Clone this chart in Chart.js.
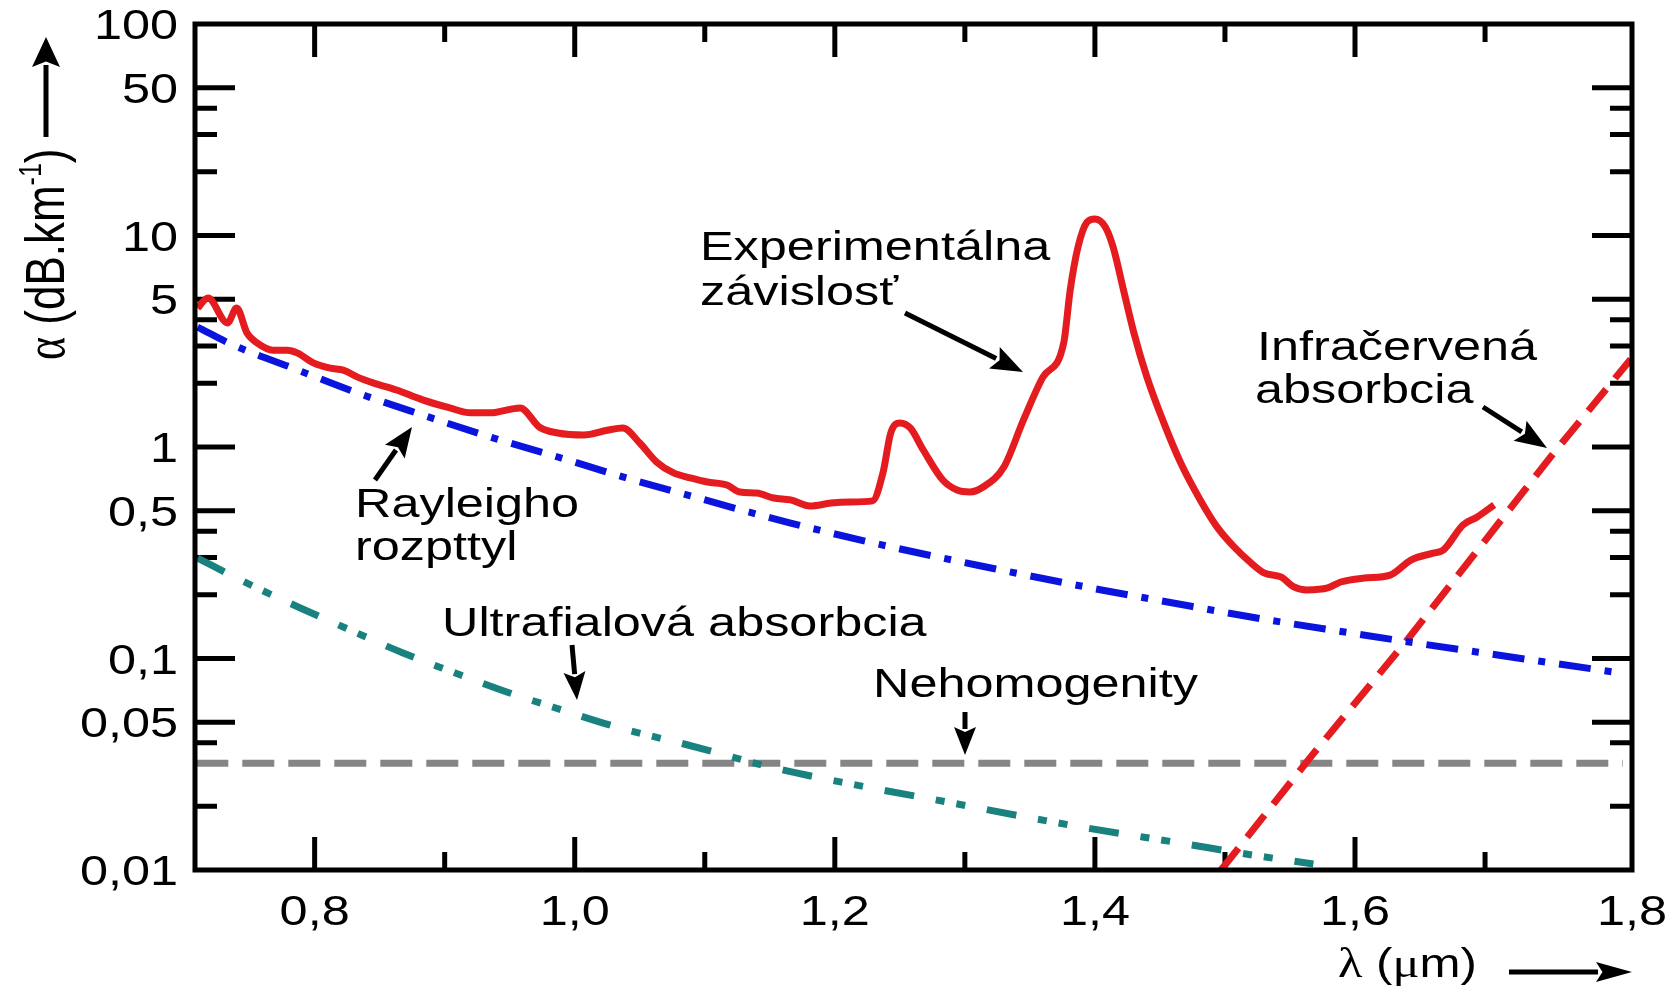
<!DOCTYPE html>
<html>
<head>
<meta charset="utf-8">
<script src="https://cdn.jsdelivr.net/npm/chart.js@4/dist/chart.umd.min.js"></script>
<style>
  html, body { margin: 0; padding: 0; background: #fff; }
  #wrap { width: 1677px; height: 990px; }
</style>
</head>
<body>
<div id="wrap"><canvas id="lossChart" width="1677" height="990"></canvas></div>
<script>
// values: wavelength in um, attenuation in dB/km
const expLambda = [0.710, 0.718, 0.733, 0.740, 0.748, 0.756, 0.768, 0.779, 0.787, 0.799, 0.812, 0.822, 0.833, 0.845, 0.863, 0.883, 0.904, 0.920, 0.935, 0.958, 0.973, 0.987, 1.007, 1.025, 1.037, 1.050, 1.063, 1.076, 1.089, 1.102, 1.117, 1.127, 1.140, 1.153, 1.166, 1.181, 1.197, 1.212, 1.229, 1.237, 1.243, 1.250, 1.258, 1.268, 1.283, 1.294, 1.304, 1.314, 1.330, 1.345, 1.360, 1.376, 1.381, 1.387, 1.394, 1.400, 1.408, 1.414, 1.422, 1.430, 1.440, 1.453, 1.466, 1.481, 1.494, 1.507, 1.520, 1.530, 1.543, 1.553, 1.563, 1.579, 1.589, 1.607, 1.627, 1.643, 1.660, 1.668, 1.683, 1.694, 1.707];
const expAlpha = [4.54, 5.06, 3.86, 4.54, 3.46, 3.10, 2.87, 2.87, 2.78, 2.50, 2.36, 2.31, 2.14, 2.01, 1.86, 1.67, 1.53, 1.45, 1.45, 1.53, 1.24, 1.165, 1.14, 1.20, 1.23, 1.044, 0.849, 0.754, 0.714, 0.683, 0.661, 0.613, 0.606, 0.574, 0.562, 0.526, 0.543, 0.549, 0.556, 0.754, 1.165, 1.30, 1.23, 0.968, 0.698, 0.626, 0.613, 0.647, 0.804, 1.34, 2.14, 3.10, 5.52, 8.82, 11.58, 11.97, 10.97, 8.82, 5.52, 3.46, 2.14, 1.30, 0.840, 0.562, 0.418, 0.337, 0.283, 0.254, 0.243, 0.218, 0.211, 0.2155, 0.230, 0.240, 0.248, 0.292, 0.315, 0.326, 0.428, 0.467, 0.532];

const rayLambda = [0.710, 0.737, 0.781, 0.833, 0.883, 0.935, 0.987, 1.037, 1.089, 1.166, 1.243, 1.320, 1.397, 1.473, 1.520, 1.597, 1.648, 1.725, 1.804];
const rayAlpha = [3.69, 3.04, 2.39, 1.80, 1.417, 1.115, 0.897, 0.722, 0.587, 0.437, 0.337, 0.268, 0.2155, 0.177, 0.157, 0.132, 0.118, 0.1006, 0.0854];

const uvLambda = [0.710, 0.743, 0.789, 0.822, 0.868, 0.902, 0.950, 0.983, 1.035, 1.087, 1.153, 1.204, 1.291, 1.381, 1.466, 1.521, 1.568];
const uvAlpha = [0.2986, 0.235, 0.1733, 0.141, 0.1062, 0.0882, 0.0687, 0.059, 0.0469, 0.039, 0.0304, 0.0261, 0.0207, 0.0163, 0.0134, 0.01177, 0.01067];

const irLambda = [1.497, 1.568, 1.640, 1.714, 1.753, 1.812];
const irAlpha = [0.0100, 0.0355, 0.122, 0.465, 0.94, 2.6];

const inhomLambda = [0.709, 1.806];
const inhomAlpha = [0.032, 0.032];

// axis ticks
const xTickValues = [0.8, 1.0, 1.2, 1.4, 1.6, 1.8];
const xTickLabels = ['0,8', '1,0', '1,2', '1,4', '1,6', '1,8'];
const xMajorMarks = [0.8, 1.0, 1.2, 1.4, 1.6];
const xMinorMarks = [0.9, 1.1, 1.3, 1.5, 1.7];
const yTickValues = [100, 50, 10, 5, 1, 0.5, 0.1, 0.05, 0.01];
const yTickLabels = ['100', '50', '10', '5', '1', '0,5', '0,1', '0,05', '0,01'];
const yMajorMarks = [50, 10, 5, 1, 0.5, 0.1, 0.05];
const yMinorMarks = [40, 30, 20, 4, 3, 2, 0.4, 0.3, 0.2, 0.04, 0.02];

const X_MIN = 0.708, X_MAX = 1.813;
const SX = 1.2;       // the original figure is stretched sideways
const SX_NOTE = 1.26; // callout text is a bit wider still
const SANS = '"Liberation Sans", Arial, sans-serif';
const SERIF = '"Liberation Serif", "Times New Roman", serif';

function pts(xs, ys) {
  return xs.map((x, i) => ({ x: x, y: ys[i] }));
}

// text drawn with the same sideways stretch as the source picture
function sText(ctx, str, x, y, size, align, family, sx) {
  sx = sx || SX;
  ctx.save();
  ctx.font = size + 'px ' + (family || SANS);
  const w = ctx.measureText(str).width * sx;
  const x0 = align === 'right' ? x - w : align === 'center' ? x - w / 2 : x;
  ctx.translate(x0, y);
  ctx.scale(sx, 1);
  ctx.textAlign = 'left';
  ctx.textBaseline = 'alphabetic';
  ctx.fillStyle = '#000';
  ctx.fillText(str, 0, 0);
  ctx.restore();
  return w;
}

function note(ctx, str, x, y) {
  return sText(ctx, str, x, y, 40, 'left', SANS, SX_NOTE);
}

function arrow(ctx, x1, y1, x2, y2, headLen, headHalf, width) {
  const ang = Math.atan2(y2 - y1, x2 - x1);
  const bx = x2 - headLen * Math.cos(ang), by = y2 - headLen * Math.sin(ang);
  ctx.save();
  ctx.strokeStyle = '#000';
  ctx.fillStyle = '#000';
  ctx.lineWidth = width;
  ctx.beginPath();
  ctx.moveTo(x1, y1);
  ctx.lineTo(bx + Math.cos(ang) * 2, by + Math.sin(ang) * 2);
  ctx.stroke();
  ctx.beginPath();
  ctx.moveTo(x2, y2);
  ctx.lineTo(bx + headHalf * Math.sin(ang), by - headHalf * Math.cos(ang));
  ctx.lineTo(bx + headLen * 0.18 * Math.cos(ang), by + headLen * 0.18 * Math.sin(ang));
  ctx.lineTo(bx - headHalf * Math.sin(ang), by + headHalf * Math.cos(ang));
  ctx.closePath();
  ctx.fill();
  ctx.restore();
}

// inward tick marks on all four sides
const tickMarks = {
  id: 'tickMarks',
  beforeDatasetsDraw(chart) {
    const { ctx, chartArea: a, scales: { x, y } } = chart;
    ctx.save();
    ctx.strokeStyle = '#000';
    ctx.lineWidth = 5;
    ctx.beginPath();
    const xm = (v, len) => {
      const px = x.getPixelForValue(v);
      ctx.moveTo(px, a.bottom); ctx.lineTo(px, a.bottom - len);
      ctx.moveTo(px, a.top); ctx.lineTo(px, a.top + len);
    };
    const ym = (v, len) => {
      const py = y.getPixelForValue(v);
      ctx.moveTo(a.left, py); ctx.lineTo(a.left + len, py);
      ctx.moveTo(a.right, py); ctx.lineTo(a.right - len, py);
    };
    xMajorMarks.forEach(v => xm(v, 33));
    xMinorMarks.forEach(v => xm(v, 18));
    yMajorMarks.forEach(v => ym(v, 40));
    yMinorMarks.forEach(v => ym(v, 22));
    ctx.stroke();
    ctx.restore();
  },
  afterDatasetsDraw(chart) {
    const { ctx, chartArea: a } = chart;
    ctx.save();
    ctx.strokeStyle = '#000';
    ctx.lineWidth = 5;
    ctx.strokeRect(a.left, a.top, a.right - a.left, a.bottom - a.top);
    ctx.restore();
  }
};

// tick labels, axis titles and the callouts
const labels = {
  id: 'labels',
  afterDraw(chart) {
    const { ctx, chartArea: a, scales: { x, y } } = chart;

    yTickValues.forEach((v, i) => {
      sText(ctx, yTickLabels[i], a.left - 17, y.getPixelForValue(v) + 15, 42, 'right');
    });
    xTickValues.forEach((v, i) => {
      // the last label sits on the right frame in the original
      const px = i === xTickValues.length - 1 ? a.right : x.getPixelForValue(v);
      sText(ctx, xTickLabels[i], px, 925, 42, 'center');
    });

    // x title: λ (μm) →
    let cx = 1338;
    cx += sText(ctx, 'λ', cx, 977, 42, 'left', SERIF);
    cx += sText(ctx, ' (', cx, 977, 41, 'left');
    cx += sText(ctx, 'μ', cx, 977, 42, 'left', SERIF);
    sText(ctx, 'm)', cx, 977, 41, 'left');
    arrow(ctx, 1509, 972, 1632, 972, 36, 10, 5);

    // y title: α (dB.km-1) ↑
    ctx.save();
    ctx.translate(64, 360);
    ctx.rotate(-Math.PI / 2);
    ctx.scale(1.0, 1.28);
    ctx.fillStyle = '#000';
    ctx.textBaseline = 'alphabetic';
    let ty = 0;
    ctx.font = '44px ' + SERIF;
    ctx.fillText('α', ty, 0); ty += ctx.measureText('α').width;
    ctx.font = '44px ' + SANS;
    ctx.fillText(' (dB.km', ty, 0); ty += ctx.measureText(' (dB.km').width;
    ctx.font = '25px ' + SANS;
    ctx.fillText('-1', ty, -18); ty += ctx.measureText('-1').width;
    ctx.font = '44px ' + SANS;
    ctx.fillText(')', ty, 0);
    ctx.restore();
    arrow(ctx, 46, 137, 46, 37, 30, 14, 5);

    // callouts
    note(ctx, 'Experimentálna', 700, 260);
    note(ctx, 'závislosť', 700, 305);
    arrow(ctx, 905, 313, 1023, 372, 32, 12, 5);

    note(ctx, 'Infračervená', 1257, 360);
    note(ctx, 'absorbcia', 1255, 403);
    arrow(ctx, 1483, 407, 1547, 448, 32, 12, 5);

    note(ctx, 'Rayleigho', 355, 517);
    note(ctx, 'rozpttyl', 355, 560);
    arrow(ctx, 375, 480, 412, 427, 30, 12, 5);

    note(ctx, 'Ultrafialová absorbcia', 442, 636);
    arrow(ctx, 572, 645, 577, 700, 28, 11, 5);

    note(ctx, 'Nehomogenity', 873, 697);
    arrow(ctx, 965, 712, 965, 755, 28, 11, 5);
  }
};

const ctx = document.getElementById('lossChart').getContext('2d');
const chart = new Chart(ctx, {
  type: 'line',
  data: {
    datasets: [
      {
        label: 'Experimentálna závislosť',
        data: pts(expLambda, expAlpha),
        borderColor: '#e41c20',
        borderWidth: 7,
        cubicInterpolationMode: 'monotone',
        pointRadius: 0
      },
      {
        label: 'Rayleigho rozptyl',
        data: pts(rayLambda, rayAlpha),
        borderColor: '#0a14dc',
        borderWidth: 7,
        borderDash: [32, 14, 7, 14],
        cubicInterpolationMode: 'monotone',
        pointRadius: 0
      },
      {
        label: 'Infračervená absorbcia',
        data: pts(irLambda, irAlpha),
        borderColor: '#e41c20',
        borderWidth: 7,
        borderDash: [28, 14],
        tension: 0,
        pointRadius: 0
      },
      {
        label: 'Ultrafialová absorbcia',
        data: pts(uvLambda, uvAlpha),
        borderColor: '#1a827e',
        borderWidth: 7,
        borderDash: [30, 22, 9, 12, 9, 22],
        cubicInterpolationMode: 'monotone',
        pointRadius: 0
      },
      {
        label: 'Nehomogenity',
        data: pts(inhomLambda, inhomAlpha),
        borderColor: '#858585',
        borderWidth: 7,
        borderDash: [32, 14],
        pointRadius: 0
      }
    ]
  },
  options: {
    responsive: false,
    animation: false,
    layout: { padding: { top: 24, right: 45, left: 0, bottom: 0 } },
    plugins: {
      legend: { display: false },
      tooltip: { enabled: false }
    },
    scales: {
      x: {
        type: 'linear',
        min: X_MIN,
        max: X_MAX,
        grid: { display: false, drawTicks: false },
        border: { display: false },
        ticks: { display: false },
        afterFit: s => { s.height = 120; }
      },
      y: {
        type: 'logarithmic',
        min: 0.01,
        max: 100,
        grid: { display: false, drawTicks: false },
        border: { display: false },
        ticks: { display: false },
        afterFit: s => { s.width = 195; }
      }
    }
  },
  plugins: [tickMarks, labels]
});
</script>
</body>
</html>
